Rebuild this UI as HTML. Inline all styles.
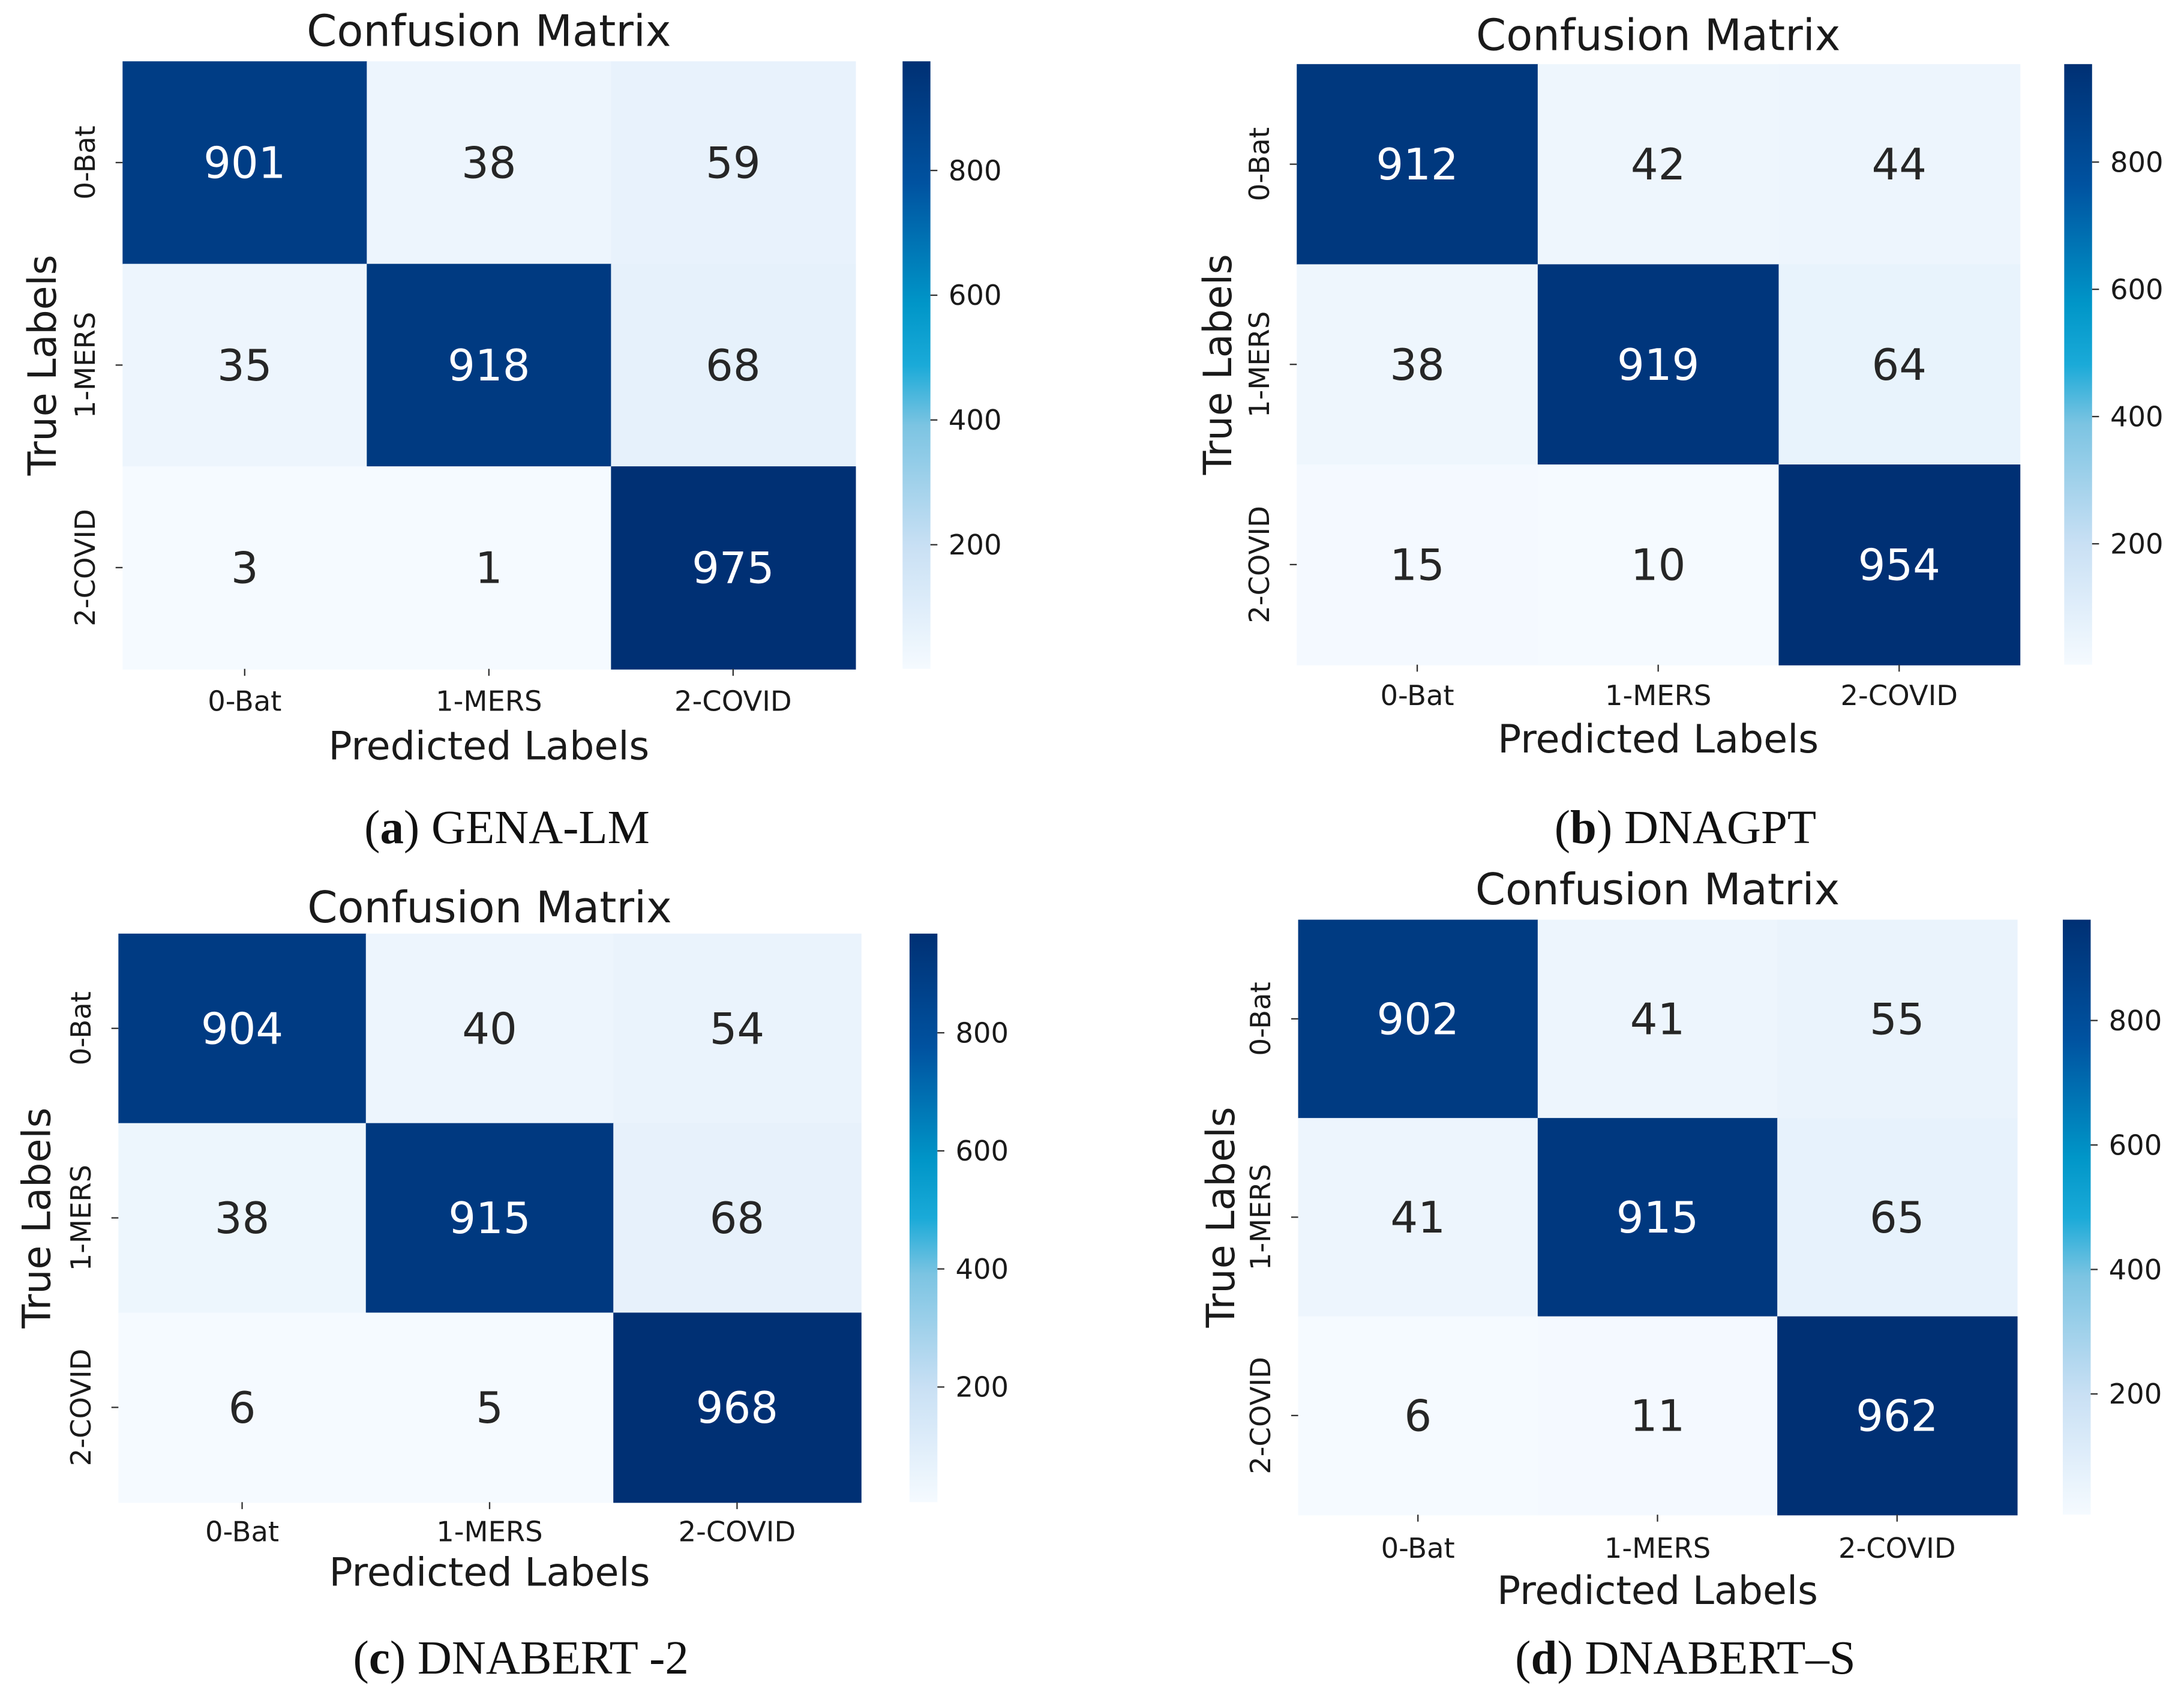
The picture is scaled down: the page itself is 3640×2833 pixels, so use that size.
<!DOCTYPE html>
<html><head><meta charset="utf-8"><style>
html,body{margin:0;padding:0;background:#fff;}
svg{display:block;}
.t{font-family:"DejaVu Sans","Liberation Sans",sans-serif;fill:#1a1a1a;}
.cap{font-family:"Liberation Serif",serif;fill:#111;}
</style></head><body>
<svg id="fig" width="3640" height="2833" viewBox="0 0 1568 1220" preserveAspectRatio="none" xmlns="http://www.w3.org/2000/svg">
<defs id="defs"></defs>
</svg>
<script>
const categories = ["0-Bat","1-MERS","2-COVID"];
const matrixA = [[901,38,59],[35,918,68],[3,1,975]];
const matrixB = [[912,42,44],[38,919,64],[15,10,954]];
const matrixC = [[904,40,54],[38,915,68],[6,5,968]];
const matrixD = [[902,41,55],[41,915,65],[6,11,962]];
const cbarTicks = [200,400,600,800];
const captionLetters = ["a","b","c","d"];
const captionNames = [" GENA-LM"," DNAGPT"," DNABERT -2"," DNABERT\u2013S"];

const NS="http://www.w3.org/2000/svg";
const svg=document.getElementById('fig');
const defs=document.getElementById('defs');
const stops=[[0,[245,250,255]],[0.2,[201,224,244]],[0.4,[124,196,226]],[0.5,[26,170,216]],[0.6,[0,150,200]],[0.8,[0,82,160]],[1,[0,48,116]]];
function cmap(t){t=Math.max(0,Math.min(1,t));for(let i=1;i<stops.length;i++){if(t<=stops[i][0]){const a=stops[i-1],b=stops[i];const f=(t-a[0])/(b[0]-a[0]);const c=a[1].map((v,k)=>Math.round(v+(b[1][k]-v)*f));return `rgb(${c[0]},${c[1]},${c[2]})`;}}return 'rgb(0,48,116)';}
function mk(tag,attrs,parent){const e=document.createElementNS(NS,tag);for(const k in attrs)e.setAttribute(k,attrs[k]);(parent||svg).appendChild(e);return e;}

const panels=[
 {m:matrixA,x0:88,x1:614,y0:44,y1:480,cb:648,title:22,xt:503,xl:535,yl:30,cap:594,cx:364},
 {m:matrixB,x0:931,x1:1450,y0:46,y1:477,cb:1482,title:25,xt:499,xl:530,yl:874,cap:594,cx:1210},
 {m:matrixC,x0:85,x1:618,y0:670,y1:1078,cb:653,title:651,xt:1099,xl:1128,yl:26,cap:1190,cx:374},
 {m:matrixD,x0:932,x1:1448,y0:660,y1:1087,cb:1481,title:638,xt:1111,xl:1141,yl:876,cap:1190,cx:1210}
];
panels.forEach((p,pi)=>{
 const g=mk('g',{});
 
 
 const flat=p.m.flat();const mn=Math.min(...flat),mx=Math.max(...flat);
 const cw=(p.x1-p.x0)/3,ch=(p.y1-p.y0)/3;
 const xS=i=>p.x0+i*cw, yS=j=>p.y0+j*ch;
 p.m.forEach((row,r)=>row.forEach((v,c)=>{
  const t=(v-mn)/(mx-mn);
  const rc=mk('rect',{x:xS(c),y:yS(r),width:cw+0.5,height:ch+0.5,fill:cmap(t)},g);
  
  
  const tx=mk('text',{x:xS(c)+cw/2,y:yS(r)+ch/2+11,'text-anchor':'middle','font-size':31,class:'t'},g);
  tx.style.fill=t>0.5?'#fff':'#262626';
  tx.textContent=v;
  
  
 }));
 categories.forEach((c,i)=>{
  const xt=mk('text',{x:xS(i)+cw/2,y:p.xt+7,'text-anchor':'middle','font-size':20,class:'t'},g);xt.textContent=c;
  
  
  mk('line',{x1:xS(i)+cw/2,x2:xS(i)+cw/2,y1:p.y1,y2:p.y1+5,stroke:'#333','stroke-width':1},g);
  const yy=yS(i)+ch/2;
  mk('line',{x1:p.x0-5,x2:p.x0,y1:yy,y2:yy,stroke:'#333','stroke-width':1},g);
  const yt=mk('text',{x:p.x0-20,y:yy,'text-anchor':'middle','font-size':20,class:'t',transform:`rotate(-90 ${p.x0-20} ${yy})`},g);yt.textContent=c;
  
  
 });
 const mid=(p.x0+p.x1)/2;
 const ti=mk('text',{x:mid,y:p.title+11,'text-anchor':'middle','font-size':31,class:'t'},g);ti.textContent='Confusion Matrix';
 
 
 const xl=mk('text',{x:mid,y:p.xl+10,'text-anchor':'middle','font-size':28,class:'t'},g);xl.textContent='Predicted Labels';
 
 
 const ym=(p.y0+p.y1)/2;
 const yl=mk('text',{x:p.yl+10,y:ym,'text-anchor':'middle','font-size':28,class:'t',transform:`rotate(-90 ${p.yl+10} ${ym})`},g);yl.textContent='True Labels';
 
 
 const gid='grad'+pi;
 const lg=mk('linearGradient',{id:gid,x1:0,y1:1,x2:0,y2:0},defs);
 for(let k=0;k<=20;k++)mk('stop',{offset:k/20,'stop-color':cmap(k/20)},lg);
 const cbr=mk('rect',{x:p.cb,y:p.y0,width:20,height:p.y1-p.y0,fill:`url(#${gid})`},g);
 
 
 const cy=v=>p.y1-(v-mn)/(mx-mn)*(p.y1-p.y0);
 cbarTicks.forEach(v=>{
  const y=cy(v);
  mk('line',{x1:p.cb+20,x2:p.cb+25,y1:y,y2:y,stroke:'#333','stroke-width':1},g);
  const ct=mk('text',{x:p.cb+33,y:y+7,'font-size':20,class:'t'},g);ct.textContent=v;
  
  
 });
 const cap=mk('text',{x:p.cx,y:p.cap+11,'text-anchor':'middle','font-size':34,class:'cap'},g);
 
 
 const t1=mk('tspan',{},cap);t1.textContent='(';
 const t2=mk('tspan',{'font-weight':'bold'},cap);t2.textContent=captionLetters[pi];
 const t3=mk('tspan',{},cap);t3.textContent=')'+captionNames[pi];
});
</script>
</body></html>
